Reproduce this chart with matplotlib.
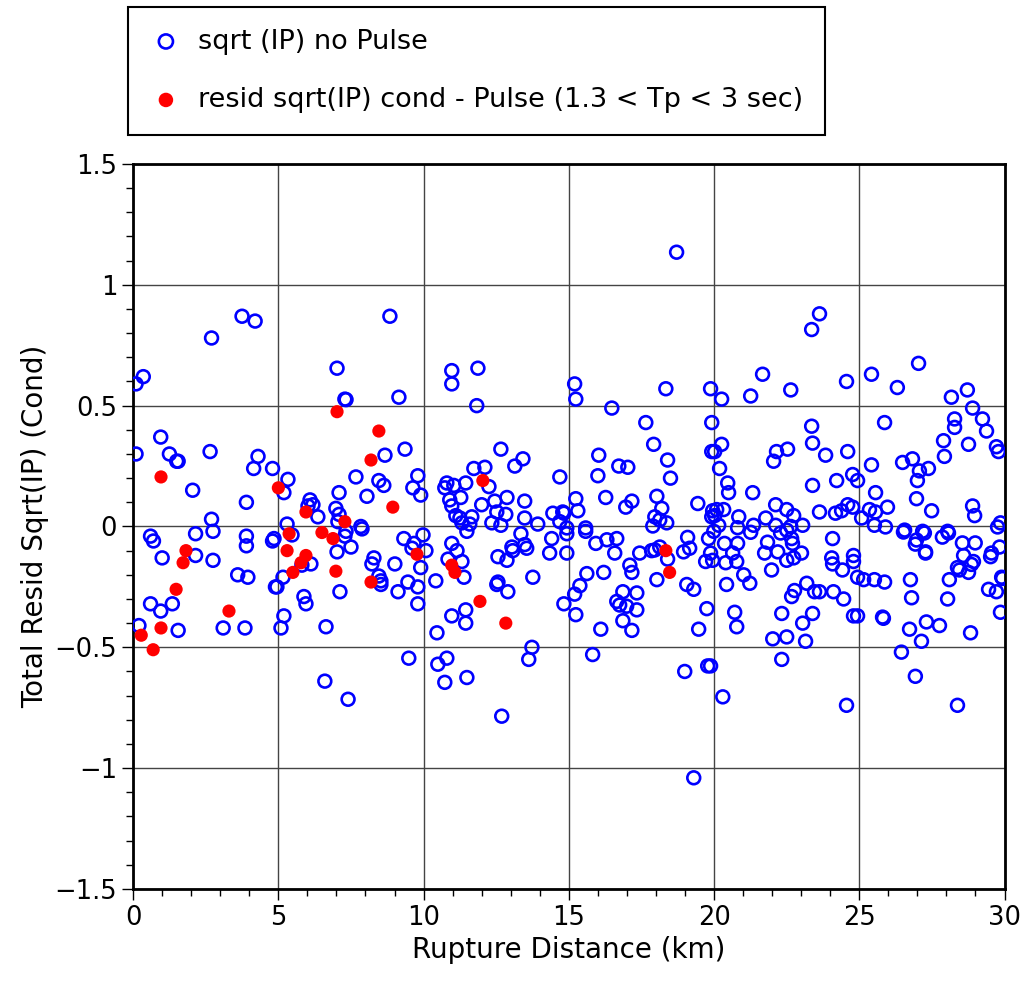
import numpy as np
import matplotlib.pyplot as plt
from matplotlib.ticker import MultipleLocator

# blue: sqrt(IP) no pulse  (distance km, residual)
blue_x = [0.1, 0.35, 0.1, 0.2, 0.6, 0.7, 0.6, 0.95, 0.95, 1.0, 1.25, 1.5, 1.55, 1.35, 1.55, 2.05, 2.15,
          2.15, 2.7, 2.65, 2.7, 2.75, 2.75, 3.1, 3.6, 3.75, 3.85, 3.9, 3.9, 3.9, 3.95, 4.2, 4.15, 4.3,
          4.8, 4.8, 4.9,
          8.84, 7.02, 7.29, 7.33, 9.15, 8.67, 9.36, 5.33, 5.19, 7.67, 8.46, 8.63, 9.8, 9.63, 9.9, 7.09,
          8.05, 6.09, 6.19, 6.02, 6.36, 6.98, 7.09, 7.05, 5.3, 7.84, 5.47, 7.33, 7.29, 7.88, 4.85, 7.02,
          7.5, 5.81, 6.12, 5.16, 4.95, 7.12, 5.88, 5.95, 5.19, 5.09, 6.64, 8.29, 8.22, 9.01, 8.46, 8.53,
          8.53, 9.12, 9.32, 9.67, 9.6, 9.98, 9.9, 9.46, 9.8, 9.8, 9.49, 6.6, 7.4,
          10.97, 10.97, 11.87, 11.83, 14.69, 12.66, 13.42, 13.14, 11.73, 12.11, 12.25, 10.8, 10.73, 11.04,
          11.45, 11.28, 10.9, 10.97, 12.0, 12.45, 12.87, 13.48, 12.52, 12.83, 11.11, 11.25, 11.66, 13.48,
          14.45, 14.83, 14.69, 13.93, 11.32, 11.59, 12.35, 12.66, 11.49, 10.08, 10.97, 11.15, 10.84, 11.32,
          11.39, 10.42, 13.04, 13.07, 13.35, 13.48, 13.55, 12.56, 12.87, 14.41, 14.34, 14.93, 14.93, 12.56,
          12.52, 12.9, 13.76, 11.45, 11.45, 10.97, 10.46, 14.83, 13.73, 13.62, 10.49, 10.8, 10.73, 11.49,
          12.69,
          18.71, 15.2, 15.24, 18.34, 19.88, 16.48, 17.65, 19.92, 17.92, 16.03, 18.4, 19.92, 16.72, 17.03,
          16.0, 18.5, 15.24, 16.27, 17.17, 16.96, 18.03, 18.2, 19.44, 14.79, 15.31, 17.96, 18.13, 18.37,
          17.89, 19.92, 19.95, 14.93, 15.58, 15.58, 15.93, 16.31, 16.65, 16.58, 17.44, 17.85, 17.96, 18.13,
          18.4, 19.09, 19.16, 18.95, 19.81, 19.88, 19.71, 19.95, 15.62, 16.2, 17.1, 17.17, 18.03, 15.38,
          15.2, 15.24, 16.86, 17.34, 16.65, 16.75, 16.99, 17.34, 16.86, 17.17, 16.1, 19.06, 19.3, 19.75,
          19.47, 15.82, 18.99, 19.78, 19.88, 19.3,
          23.63, 23.36, 21.67, 22.64, 21.26, 20.26, 24.56, 23.36, 23.39, 20.26, 20.02, 20.19, 22.15, 22.53,
          22.05, 23.84, 24.6, 20.47, 20.5, 21.33, 23.39, 24.22, 24.77, 24.94, 20.09, 20.33, 20.02, 20.16,
          20.85, 21.78, 22.12, 22.5, 22.74, 22.12, 22.64, 23.05, 23.63, 24.18, 24.39, 24.6, 24.77, 21.36,
          20.81, 21.26, 22.29, 22.5, 19.99, 20.36, 20.81, 20.64, 20.4, 20.78, 21.84, 21.74, 22.19, 22.67,
          22.7, 22.5, 22.74, 23.01, 21.98, 21.02, 21.23, 20.43, 24.08, 24.05, 24.08, 24.42, 24.8, 24.8,
          24.94, 23.19, 23.46, 23.63, 22.77, 22.67, 24.11, 24.46, 20.71, 20.78, 22.33, 23.39, 23.05, 22.02,
          22.5, 23.15, 24.8, 24.94, 22.33, 20.3, 24.56,
          27.04, 25.42, 26.31, 28.72, 28.17, 28.9, 29.24, 29.38, 25.87, 28.28, 28.28, 27.9, 27.93, 28.76,
          29.72, 29.79, 25.42, 26.49, 26.83, 27.07, 27.38, 27.0, 25.56, 26.97, 27.49, 28.9, 28.97, 25.97,
          25.35, 25.56, 25.08, 25.52, 25.9, 26.56, 27.18, 28.04, 29.86, 29.76, 26.52, 26.97, 26.93, 27.24,
          27.28, 27.28, 27.86, 28.07, 28.55, 28.99, 28.59, 28.93, 28.86, 28.38, 28.45, 28.76, 29.55, 29.52,
          29.83, 25.15, 25.52, 25.87, 26.76, 26.8, 28.04, 28.1, 29.45, 29.72, 29.9, 29.93, 29.86, 25.8,
          25.83, 26.73, 27.31, 27.76, 27.14, 28.83, 26.45, 26.93, 28.38]
blue_y = [0.59, 0.62, 0.30, -0.41, -0.04, -0.06, -0.32, 0.37, -0.35, -0.13, 0.30, 0.27, 0.27, -0.32, -0.43, 0.15, -0.03,
          -0.12, 0.78, 0.31, 0.03, -0.02, -0.14, -0.42, -0.20, 0.87, -0.42, 0.10, -0.04, -0.08, -0.21, 0.85, 0.24, 0.29,
          0.24, -0.06, -0.25,
          0.87, 0.655, 0.527, 0.525, 0.535, 0.295, 0.32, 0.195, 0.14, 0.205, 0.19, 0.17, 0.21, 0.16, 0.13, 0.14,
          0.125, 0.11, 0.09, 0.085, 0.04, 0.075, 0.05, 0.02, 0.01, 0.0, -0.035, -0.02, -0.04, -0.01, -0.05, -0.105,
          -0.085, -0.16, -0.155, -0.21, -0.25, -0.27, -0.29, -0.32, -0.37, -0.42, -0.415, -0.13, -0.155, -0.155, -0.205, -0.225,
          -0.24, -0.27, -0.05, -0.07, -0.09, -0.035, -0.17, -0.23, -0.25, -0.32, -0.545, -0.64, -0.715,
          0.645, 0.59, 0.655, 0.50, 0.205, 0.32, 0.28, 0.25, 0.24, 0.245, 0.165, 0.18, 0.16, 0.17,
          0.18, 0.12, 0.11, 0.085, 0.09, 0.105, 0.12, 0.105, 0.06, 0.05, 0.045, 0.035, 0.04, 0.035,
          0.055, 0.055, 0.02, 0.01, 0.015, 0.01, 0.015, 0.005, -0.02, -0.10, -0.07, -0.10, -0.135, -0.145,
          -0.21, -0.225, -0.085, -0.10, -0.03, -0.075, -0.09, -0.125, -0.14, -0.05, -0.11, -0.11, -0.03, -0.23,
          -0.24, -0.27, -0.21, -0.345, -0.40, -0.37, -0.44, -0.32, -0.50, -0.55, -0.57, -0.545, -0.645, -0.625,
          -0.785,
          1.135, 0.59, 0.527, 0.57, 0.57, 0.49, 0.43, 0.43, 0.34, 0.295, 0.275, 0.31, 0.25, 0.245,
          0.21, 0.20, 0.115, 0.12, 0.105, 0.08, 0.125, 0.075, 0.095, 0.06, 0.065, 0.04, 0.027, 0.015,
          0.002, 0.04, 0.065, -0.006, -0.006, -0.02, -0.07, -0.055, -0.05, -0.11, -0.11, -0.10, -0.097, -0.085,
          -0.135, -0.045, -0.09, -0.105, -0.05, -0.11, -0.145, -0.14, -0.195, -0.19, -0.16, -0.19, -0.22, -0.245,
          -0.28, -0.365, -0.27, -0.275, -0.31, -0.325, -0.33, -0.345, -0.39, -0.43, -0.425, -0.24, -0.26, -0.34,
          -0.425, -0.53, -0.60, -0.577, -0.577, -1.04,
          0.88, 0.815, 0.63, 0.565, 0.54, 0.527, 0.60, 0.415, 0.345, 0.34, 0.31, 0.24, 0.31, 0.32,
          0.27, 0.295, 0.31, 0.18, 0.14, 0.14, 0.17, 0.19, 0.215, 0.19, 0.07, 0.07, 0.045, 0.005,
          0.04, 0.035, 0.09, 0.07, 0.045, 0.005, 0.0, 0.005, 0.06, 0.055, 0.065, 0.09, 0.08, 0.005,
          -0.005, -0.024, -0.027, -0.015, -0.02, -0.07, -0.07, -0.11, -0.15, -0.145, -0.065, -0.11, -0.105, -0.05,
          -0.07, -0.14, -0.13, -0.11, -0.18, -0.20, -0.235, -0.24, -0.05, -0.13, -0.155, -0.18, -0.12, -0.145,
          -0.21, -0.235, -0.27, -0.27, -0.265, -0.29, -0.27, -0.30, -0.355, -0.415, -0.36, -0.36, -0.40, -0.465,
          -0.457, -0.475, -0.37, -0.37, -0.55, -0.705, -0.74,
          0.675, 0.63, 0.575, 0.565, 0.535, 0.49, 0.445, 0.395, 0.43, 0.445, 0.41, 0.355, 0.29, 0.34,
          0.33, 0.31, 0.255, 0.265, 0.28, 0.23, 0.24, 0.19, 0.14, 0.115, 0.065, 0.085, 0.045, 0.08,
          0.07, 0.06, 0.035, 0.005, -0.002, -0.015, -0.02, -0.02, 0.015, -0.002, -0.023, -0.056, -0.073, -0.027,
          -0.105, -0.11, -0.044, -0.027, -0.068, -0.068, -0.12, -0.145, -0.157, -0.17, -0.18, -0.19, -0.11, -0.125,
          -0.085, -0.22, -0.22, -0.23, -0.22, -0.295, -0.30, -0.22, -0.26, -0.27, -0.21, -0.215, -0.355, -0.375,
          -0.38, -0.425, -0.395, -0.41, -0.475, -0.44, -0.52, -0.62, -0.74]

# red: resid sqrt(IP) cond - pulse (1.3 < Tp < 3 sec)
red_x = [0.96, 5.0, 1.82, 1.72, 1.48, 3.3, 0.96, 0.28, 0.69, 7.02, 8.46, 8.19, 5.95, 7.29, 8.94,
         5.37, 6.5, 6.88, 5.3, 5.95, 5.78, 5.5, 6.98, 8.19, 9.77, 12.04, 11.94, 12.83, 10.97, 11.08,
         18.34, 18.47]
red_y = [0.205, 0.16, -0.10, -0.15, -0.26, -0.35, -0.42, -0.45, -0.51, 0.475, 0.395, 0.275, 0.06, 0.02, 0.08,
         -0.03, -0.025, -0.05, -0.10, -0.12, -0.15, -0.19, -0.185, -0.23, -0.115, 0.19, -0.31, -0.40, -0.16, -0.19,
         -0.10, -0.19]

fig = plt.figure(figsize=(10.24, 9.85), dpi=100)
ax = fig.add_axes([0.130, 0.0975, 0.851, 0.736])

ax.scatter(blue_x, blue_y, s=85, facecolors='none', edgecolors='#0000ff', linewidths=1.9,
           label='sqrt (IP) no Pulse', zorder=3)
ax.scatter(red_x, red_y, s=90, color='#ff0000', edgecolors='none',
           label='resid sqrt(IP) cond - Pulse (1.3 < Tp < 3 sec)', zorder=4)

ax.set_xlim(0, 30)
ax.set_ylim(-1.5, 1.5)
ax.xaxis.set_major_locator(MultipleLocator(5))
ax.xaxis.set_minor_locator(MultipleLocator(1))
ax.yaxis.set_minor_locator(MultipleLocator(0.1))
ax.set_yticks([-1.5, -1, -0.5, 0, 0.5, 1, 1.5])
ax.set_yticklabels(['\u22121.5', '\u22121', '\u22120.5', '0', '0.5', '1', '1.5'])
ax.tick_params(which='major', direction='out', length=8, width=1, labelsize=18.5, colors='black')
ax.tick_params(which='minor', direction='out', length=5, width=1)
ax.grid(True, which='major', color='#444444', linewidth=1)
for s in ax.spines.values():
    s.set_linewidth(2)

ax.set_xlabel('Rupture Distance (km)', fontsize=20)
ax.set_ylabel('Total Resid Sqrt(IP) (Cond)', fontsize=20)

leg = fig.legend(loc='upper left', bbox_to_anchor=(0.125, 0.993), fontsize=19.5, frameon=True,
                 fancybox=False, edgecolor='black', framealpha=1, borderpad=0.8, labelspacing=1.2,
                 handlelength=1.2, handletextpad=0.6, borderaxespad=0, markerscale=1.1)
leg.get_frame().set_linewidth(1.5)

fig.savefig('out.png', dpi=100)
